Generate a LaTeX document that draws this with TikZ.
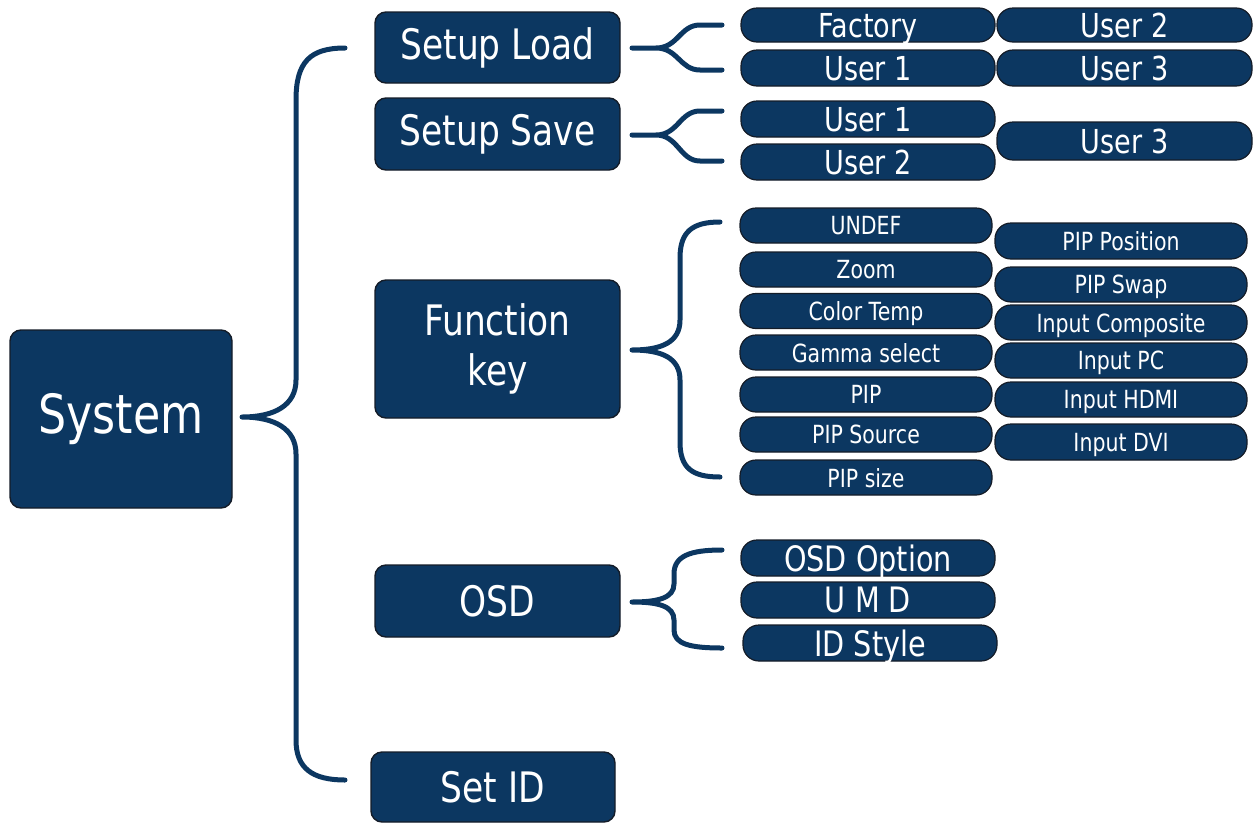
\documentclass[tikz,border=0pt]{standalone}
\usepackage{fontspec}
\setmainfont{DejaVu Sans}[FakeStretch=0.82]
\usetikzlibrary{calc}
\definecolor{navy}{RGB}{12,55,97}
\definecolor{rim}{RGB}{20,28,40}
\tikzset{
  bigbox/.style={draw=rim, line width=1.4pt, fill=navy, rounded corners=11pt, text=white, inner sep=0pt, align=center},
  pill/.style={draw=rim, line width=1.2pt, fill=navy, rounded corners=16pt, text=white, inner sep=0pt, text depth=0pt},
  brace/.style={draw=navy, line width=5pt, line cap=round, line join=round},
  fbig/.style={font=\fontsize{54}{58}\selectfont},
  fmid/.style={font=\fontsize{42}{50}\selectfont},
  fpillL/.style={font=\fontsize{33}{34}\selectfont},
  fpillO/.style={font=\fontsize{35}{36}\selectfont},
  fpillS/.style={font=\fontsize{25}{26}\selectfont},
}
\begin{document}
\begin{tikzpicture}[x=1pt,y=-1pt]
\useasboundingbox (0,0) rectangle (1259,825);
% main boxes
\node[bigbox,fbig, minimum width=222pt, minimum height=178pt] (sys) at (121,419) {System};
\node[bigbox,fmid, minimum width=245pt, minimum height=71pt] (sl) at (497.5,47.5) {Setup Load};
\node[bigbox,fmid, minimum width=245pt, minimum height=72pt] (ss) at (497.5,134) {Setup Save};
\node[bigbox,fmid, minimum width=245pt, minimum height=138pt] (fk) at (497.5,349) {Function\\key};
\node[bigbox,fmid, minimum width=245pt, minimum height=72pt] (osd) at (497.5,601) {OSD};
\node[bigbox,fmid, minimum width=244pt, minimum height=70pt] (sid) at (493,787) {Set ID};
% setup load pills
\node[pill,fpillL, minimum width=254pt, minimum height=34pt] (lf) at (868,25) {Factory};
\node[pill,fpillL, minimum width=254pt, minimum height=36pt] (lu1) at (868,68) {User 1};
\node[pill,fpillL, minimum width=255pt, minimum height=34pt] (lu2) at (1124.5,25) {User 2};
\node[pill,fpillL, minimum width=255pt, minimum height=36pt] (lu3) at (1124.5,68) {User 3};
% setup save pills
\node[pill,fpillL, minimum width=254pt, minimum height=36pt] (su1) at (868,119) {User 1};
\node[pill,fpillL, minimum width=254pt, minimum height=36pt] (su2) at (868,162) {User 2};
\node[pill,fpillL, minimum width=255pt, minimum height=38pt] (su3) at (1124.5,141) {User 3};
% function key pills
\node[pill,fpillS, minimum width=252pt, minimum height=35pt] (f1) at (866,225.5) {UNDEF};
\node[pill,fpillS, minimum width=252pt, minimum height=35pt] (f2) at (866,269.5) {Zoom};
\node[pill,fpillS, minimum width=252pt, minimum height=35pt] (f3) at (866,311) {Color Temp};
\node[pill,fpillS, minimum width=252pt, minimum height=35pt] (f4) at (866,352.5) {Gamma select};
\node[pill,fpillS, minimum width=252pt, minimum height=35pt] (f5) at (866,394.5) {PIP};
\node[pill,fpillS, minimum width=252pt, minimum height=35pt] (f6) at (866,434.5) {PIP Source};
\node[pill,fpillS, minimum width=252pt, minimum height=35pt] (f7) at (866,477.5) {PIP size};
\node[pill,fpillS, minimum width=252pt, minimum height=36pt] (g1) at (1121,241) {PIP Position};
\node[pill,fpillS, minimum width=252pt, minimum height=35pt] (g2) at (1121,284.5) {PIP Swap};
\node[pill,fpillS, minimum width=252pt, minimum height=35pt] (g3) at (1121,322.5) {Input Composite};
\node[pill,fpillS, minimum width=252pt, minimum height=35pt] (g4) at (1121,360.5) {Input PC};
\node[pill,fpillS, minimum width=252pt, minimum height=35pt] (g5) at (1121,399.5) {Input HDMI};
\node[pill,fpillS, minimum width=252pt, minimum height=36pt] (g6) at (1121,442) {Input DVI};
% OSD pills
\node[pill,fpillO, minimum width=254pt, minimum height=36pt] (o1) at (868,558) {OSD Option};
\node[pill,fpillO, minimum width=254pt, minimum height=36pt] (o2) at (868,600) {U M D};
\node[pill,fpillO, minimum width=254pt, minimum height=36pt] (o3) at (870,643) {ID Style};
% big brace
\draw[brace] (345,48) .. controls (310,48) and (296,62) .. (296,100) -- (296,380)
  .. controls (296,405) and (275,417) .. (242,417)
  .. controls (275,417) and (296,429) .. (296,454) -- (296,740)
  .. controls (296,768) and (312,780) .. (345,780);
% setup load fork
\draw[brace] (722,25) -- (700,25) .. controls (680,25) and (678,48) .. (656,48) -- (632,48)
  (656,48) .. controls (678,48) and (680,70) .. (700,70) -- (722,70);
% setup save fork
\draw[brace] (722,111) -- (700,111) .. controls (680,111) and (678,135) .. (656,135) -- (632,135)
  (656,135) .. controls (678,135) and (680,161) .. (700,161) -- (722,161);
% function key brace
\draw[brace] (720,222) .. controls (692,222) and (680,232) .. (680,258) -- (680,320)
  .. controls (680,342) and (662,350) .. (632,350)
  .. controls (662,350) and (680,358) .. (680,380) -- (680,442)
  .. controls (680,468) and (692,477) .. (720,477);
% osd brace
\draw[brace] (722,550) .. controls (690,550) and (674,556) .. (674,574) -- (674,584)
  .. controls (674,598) and (658,602) .. (632,602)
  .. controls (658,602) and (674,606) .. (674,620) -- (674,630)
  .. controls (674,644) and (690,648) .. (722,648);
\end{tikzpicture}
\end{document}
